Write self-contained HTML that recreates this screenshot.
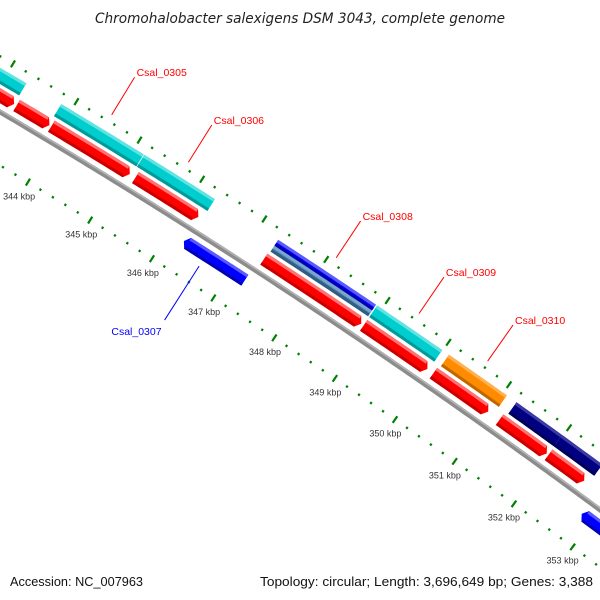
<!DOCTYPE html>
<html><head><meta charset="utf-8"><style>
html,body{margin:0;background:#fff;width:600px;height:600px;overflow:hidden}
svg{display:block;font-family:"Liberation Sans",sans-serif;overflow:hidden}
</style></head><body>
<svg id="map" width="600" height="600" viewBox="0 0 600 600">
<text x="95" y="23" font-size="14" font-style="italic" fill="#222" textLength="410" lengthAdjust="spacingAndGlyphs" font-family="DejaVu Sans, sans-serif">Chromohalobacter salexigens DSM 3043, complete genome</text>
<g id="ticks"></g>
<g id="backbone"></g>
<g id="genes"></g>
<g id="labels"></g>
<text x="10" y="586" font-size="13" fill="#111" textLength="133" lengthAdjust="spacingAndGlyphs">Accession: NC_007963</text>
<text x="260" y="586" font-size="13" fill="#111" textLength="333" lengthAdjust="spacingAndGlyphs">Topology: circular; Length: 3,696,649 bp; Genes: 3,388</text>
</svg>
<script>
// feature data (kbp)
const geneStarts = [342.0, 343.84, 345.16, 347.31, 348.92, 350.10, 351.22, 351.98,
                    342.0, 343.33, 343.88, 345.22, 347.29, 348.92, 350.07, 351.17, 351.99,
                    346.24, 352.83];
const geneEnds   = [343.29, 345.15, 346.29, 348.90, 349.99, 351.06, 351.98, 352.66,
                    343.29, 343.85, 345.13, 346.23, 348.88, 349.97, 350.98, 351.96, 352.59,
                    347.23, 354.5];
const geneTracks = ["upper","upper","upper","upper2","upper","upper","upper","upper",
                    "fwd","fwd","fwd","fwd","fwd","fwd","fwd","fwd","fwd",
                    "rev","rev"];
const geneColors = ["cyan","cyan","cyan","blue","cyan","orange","navy","navy",
                    "red","red","red","red","red","red","red","red","red",
                    "blue","blue"];
const labelNames = ["Csal_0305","Csal_0306","Csal_0307","Csal_0308","Csal_0309","Csal_0310"];
const labelPositions = [344.5, 345.72, 346.6, 348.1, 349.45, 350.58];
const labelColors = ["red","red","blue","red","red","red"];
const labelSides = ["out","out","in","out","out","out"];
const tickStart = 342, tickEnd = 355;

const NS = "http://www.w3.org/2000/svg";
const cx = -3516, cy = 6064;
const R_BACK = 6913, R_UP = 6944, R_FWD = 6927, R_REV = 6899, R_OTICK = 6961, R_ITICK = 6867, R_LAB = 6850;
function ang(k){ return (-58.93 + (k - 344) * 0.608) * Math.PI / 180; }
function pt(k, r){ const a = ang(k); return [cx + r * Math.cos(a), cy + r * Math.sin(a)]; }
function arcPts(s, e, r){ const p = []; const n = Math.max(2, Math.ceil((e - s) / 0.05)); for (let i = 0; i <= n; i++) p.push(pt(s + (e - s) * i / n, r)); return p; }
function poly(g, pts, fill, name){
  const el = document.createElementNS(NS, "polygon");
  el.setAttribute("points", pts.map(p => p[0].toFixed(2) + "," + p[1].toFixed(2)).join(" "));
  el.setAttribute("fill", fill);
  
  
  g.appendChild(el);
  return el;
}
const palette = {
  red: ["#ff0000", "#ff7373", "#c80000"],
  cyan: ["#00cdcd", "#5fe3e3", "#009a9a"],
  blue: ["#0000ff", "#5a5aff", "#0000b4"],
  steel: ["#4682b4", "#7aa6cc", "#325d80"],
  orange: ["#ff8c00", "#ffb050", "#c06800"],
  navy: ["#000080", "#3a3aa6", "#00005a"]
};
function band(g, s, e, rc, w, col, arrow, name){
  const ro = rc + w / 2, ri = rc - w / 2, ah = 0.06;
  let s2 = s, e2 = e;
  if (arrow === "fwd") e2 = e - ah;
  if (arrow === "rev") s2 = s + ah;
  const outer = arcPts(s2, e2, ro), inner = arcPts(s2, e2, ri).reverse();
  let pts = outer.slice();
  if (arrow === "fwd") pts.push(pt(e, rc));
  pts = pts.concat(inner);
  if (arrow === "rev") pts.push(pt(s, rc));
  const grp = document.createElementNS(NS, "g");
  
  
  g.appendChild(grp);
  const c = palette[col];
  poly(grp, pts, c[0], name + "-body");
  poly(grp, arcPts(s2, e2, ro).concat(arcPts(s2, e2, ro - 3).reverse()), c[1], name + "-highlight");
  poly(grp, arcPts(s2, e2, ri + 3).concat(arcPts(s2, e2, ri).reverse()), c[2], name + "-shadow");
}
// ticks
const tg = document.getElementById("ticks");
const nT = Math.round((tickEnd - tickStart) / 0.2);
for (let i = 0; i <= nT; i++){
  const k = tickStart + i * 0.2;
  const major = Math.abs(k - Math.round(k)) < 1e-6;
  for (const r of [R_OTICK, R_ITICK]){
    const hl = major ? 4 : 1.2;
    const a = pt(k, r - hl), b = pt(k, r + hl);
    const ln = document.createElementNS(NS, "line");
    ln.setAttribute("x1", a[0]); ln.setAttribute("y1", a[1]);
    ln.setAttribute("x2", b[0]); ln.setAttribute("y2", b[1]);
    ln.setAttribute("stroke", "#008000");
    ln.setAttribute("stroke-width", 2.2);
    
    
    tg.appendChild(ln);
  }
  if (major){
    const p = pt(k, R_LAB);
    const t = document.createElementNS(NS, "text");
    t.setAttribute("x", p[0]); t.setAttribute("y", p[1] + 3);
    t.setAttribute("text-anchor", "middle");
    t.setAttribute("font-size", "9");
    t.setAttribute("fill", "#333");
    t.textContent = Math.round(k) + " kbp";
    
    
    tg.appendChild(t);
  }
}
// backbone
const bg = document.getElementById("backbone");
const bpts = arcPts(340, 357, R_BACK);
const bpath = document.createElementNS(NS, "polyline");
bpath.setAttribute("points", bpts.map(p => p.join(",")).join(" "));
bpath.setAttribute("fill", "none"); bpath.setAttribute("stroke", "#8c8c8c"); bpath.setAttribute("stroke-width", "5");


bg.appendChild(bpath);
const bpath2 = document.createElementNS(NS, "polyline");
bpath2.setAttribute("points", arcPts(340, 357, R_BACK + 1.5).map(p => p.join(",")).join(" "));
bpath2.setAttribute("fill", "none"); bpath2.setAttribute("stroke", "#b4b4b4"); bpath2.setAttribute("stroke-width", "1.5");


bg.appendChild(bpath2);
// genes
const gg = document.getElementById("genes");
for (let i = 0; i < geneStarts.length; i++){
  const tr = geneTracks[i];
  const name = "gene-" + i;
  if (tr === "upper") band(gg, geneStarts[i], geneEnds[i], R_UP, 14, geneColors[i], null, name);
  else if (tr === "upper2"){
    band(gg, geneStarts[i], geneEnds[i], R_UP + 3.5, 7, "blue", null, name + "-a");
    band(gg, geneStarts[i], geneEnds[i], R_UP - 3.5, 7, "steel", null, name + "-b");
  }
  else if (tr === "fwd") band(gg, geneStarts[i], geneEnds[i], R_FWD, 13, geneColors[i], "fwd", name);
  else band(gg, geneStarts[i], geneEnds[i], R_REV, 13, geneColors[i], "rev", name);
}
// labels
const lg = document.getElementById("labels");
for (let i = 0; i < labelNames.length; i++){
  const k = labelPositions[i];
  const out = labelSides[i] === "out";
  const r1 = out ? 6968 : 6886, r2 = out ? 7012 : 6822;
  const a = pt(k, r1), b = pt(k, r2);
  const ln = document.createElementNS(NS, "line");
  ln.setAttribute("x1", a[0]); ln.setAttribute("y1", a[1]);
  ln.setAttribute("x2", b[0]); ln.setAttribute("y2", b[1]);
  ln.setAttribute("stroke", labelColors[i]); ln.setAttribute("stroke-width", "1");
  
  
  lg.appendChild(ln);
  const t = document.createElementNS(NS, "text");
  t.setAttribute("x", out ? b[0] + 2 : b[0] - 3);
  t.setAttribute("y", b[1] + (out ? -1 : 15));
  t.setAttribute("text-anchor", out ? "start" : "end");
  t.setAttribute("font-size", "10.5");
  t.setAttribute("fill", labelColors[i]);
  t.textContent = labelNames[i];
  
  
  lg.appendChild(t);
}
</script>
</body></html>
